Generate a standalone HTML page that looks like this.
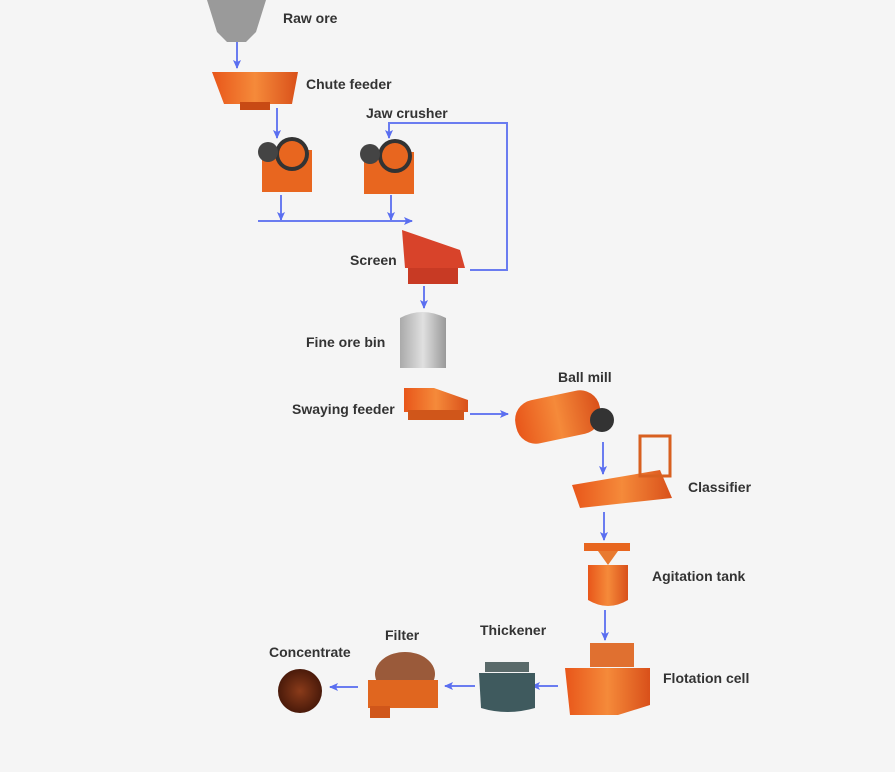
<!DOCTYPE html>
<html><head><meta charset="utf-8"><style>
body{margin:0;background:#f5f5f5;}
#c{position:relative;width:895px;height:772px;overflow:hidden;background:#f5f5f5;font-family:"Liberation Sans",sans-serif;}
.t{position:absolute;font-size:14px;font-weight:bold;color:#333;white-space:nowrap;line-height:16px;}
svg{position:absolute;left:0;top:0;}
</style></head><body><div id="c">
<svg width="895" height="772">
<defs>
<marker id="a" markerWidth="10" markerHeight="10" refX="8" refY="4" orient="auto" markerUnits="userSpaceOnUse"><path d="M0,0 L9,4 L0,8 L2,4z" fill="#5a6ef0"/></marker>
<linearGradient id="og" x1="0" x2="1"><stop offset="0" stop-color="#e8561a"/><stop offset=".5" stop-color="#f58a3a"/><stop offset="1" stop-color="#d9501a"/></linearGradient>
<linearGradient id="gg" x1="0" x2="1"><stop offset="0" stop-color="#aaa"/><stop offset=".5" stop-color="#e0e0e0"/><stop offset="1" stop-color="#999"/></linearGradient>
<radialGradient id="br"><stop offset="0" stop-color="#8a3b1a"/><stop offset="1" stop-color="#4a1a0a"/></radialGradient>
</defs>
<g stroke="#6a7cf0" stroke-width="2" fill="none">
<line x1="237" y1="42" x2="237" y2="68" marker-end="url(#a)"/>
<line x1="277" y1="108" x2="277" y2="138" marker-end="url(#a)"/>
<polyline points="470,270 507,270 507,123 389,123 389,138" marker-end="url(#a)"/>
<line x1="281" y1="195" x2="281" y2="220" marker-end="url(#a)"/>
<line x1="391" y1="195" x2="391" y2="220" marker-end="url(#a)"/>
<line x1="258" y1="221" x2="412" y2="221" marker-end="url(#a)"/>
<line x1="424" y1="286" x2="424" y2="308" marker-end="url(#a)"/>
<line x1="470" y1="414" x2="508" y2="414" marker-end="url(#a)"/>
<line x1="603" y1="442" x2="603" y2="474" marker-end="url(#a)"/>
<line x1="604" y1="512" x2="604" y2="540" marker-end="url(#a)"/>
<line x1="605" y1="610" x2="605" y2="640" marker-end="url(#a)"/>
<line x1="558" y1="686" x2="532" y2="686" marker-end="url(#a)"/>
<line x1="475" y1="686" x2="445" y2="686" marker-end="url(#a)"/>
<line x1="358" y1="687" x2="330" y2="687" marker-end="url(#a)"/>
</g>
<path d="M207,0 H266 L256,32 L246,42 H227 L217,32z" fill="#9a9a9a"/>
<path d="M212,72 H298 L292,104 H224z" fill="url(#og)"/>
<rect x="240" y="102" width="30" height="8" fill="#c84a14"/>
<g><rect x="262" y="150" width="50" height="42" fill="#e8661f"/><circle cx="292" cy="154" r="17" fill="#333"/><circle cx="292" cy="154" r="13" fill="#e8661f"/><circle cx="268" cy="152" r="10" fill="#444"/></g>
<g><rect x="364" y="152" width="50" height="42" fill="#e8661f"/><circle cx="395" cy="156" r="17" fill="#333"/><circle cx="395" cy="156" r="13" fill="#e8661f"/><circle cx="370" cy="154" r="10" fill="#444"/></g>
<path d="M402,230 L460,250 L465,268 H405z" fill="#d8432a"/>
<rect x="408" y="268" width="50" height="16" fill="#c83a24"/>
<path d="M400,318 Q422,306 446,318 V368 H400z" fill="url(#gg)"/>
<path d="M404,388 H434 L468,400 V412 H404z" fill="url(#og)"/>
<rect x="408" y="410" width="56" height="10" fill="#d0561a"/>
<rect x="515" y="395" width="86" height="44" rx="20" fill="url(#og)" transform="rotate(-12 558 417)"/>
<circle cx="602" cy="420" r="12" fill="#333"/>
<path d="M572,485 L660,470 L672,498 L580,508z" fill="url(#og)"/>
<rect x="640" y="436" width="30" height="40" fill="none" stroke="#d86020" stroke-width="3"/>
<rect x="584" y="543" width="46" height="8" fill="#e8661f"/>
<path d="M588,565 H628 V600 Q608,612 588,600z" fill="url(#og)"/>
<path d="M598,551 L608,565 L618,551z" fill="#e87a30"/>
<path d="M565,668 H650 V705 L618,715 H570z" fill="url(#og)"/>
<rect x="590" y="643" width="44" height="24" fill="#e07030"/>
<path d="M479,673 H535 V708 Q507,716 481,708z" fill="#3f5a5e"/>
<rect x="485" y="662" width="44" height="10" fill="#5a6a6a"/>
<ellipse cx="405" cy="674" rx="30" ry="22" fill="#9a5a3a"/>
<rect x="368" y="680" width="70" height="28" fill="#e0661f"/>
<rect x="370" y="706" width="20" height="12" fill="#d0561a"/>
<circle cx="300" cy="691" r="22" fill="url(#br)"/>
</svg>
<div class="t" style="left:283px;top:10px">Raw ore</div>
<div class="t" style="left:306px;top:76px">Chute feeder</div>
<div class="t" style="left:366px;top:105px">Jaw crusher</div>
<div class="t" style="left:350px;top:252px">Screen</div>
<div class="t" style="left:306px;top:334px">Fine ore bin</div>
<div class="t" style="left:292px;top:401px">Swaying feeder</div>
<div class="t" style="left:558px;top:369px">Ball mill</div>
<div class="t" style="left:688px;top:479px">Classifier</div>
<div class="t" style="left:652px;top:568px">Agitation tank</div>
<div class="t" style="left:663px;top:670px">Flotation cell</div>
<div class="t" style="left:480px;top:622px">Thickener</div>
<div class="t" style="left:385px;top:627px">Filter</div>
<div class="t" style="left:269px;top:644px">Concentrate</div>
</div></body></html>
